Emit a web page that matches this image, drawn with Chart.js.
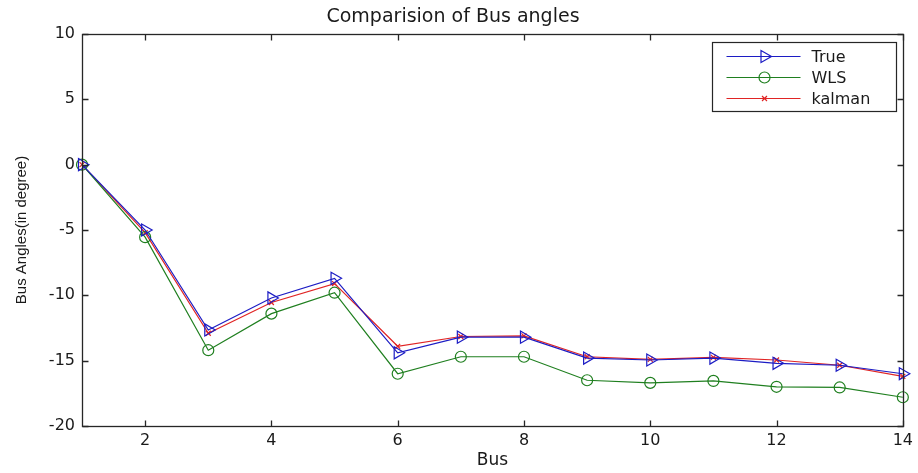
<!DOCTYPE html>
<html><head><meta charset="utf-8">
<script src="https://cdn.jsdelivr.net/npm/chart.js@4.4.1/dist/chart.umd.min.js"></script>
<style>html,body{margin:0;padding:0;background:#fff;}</style>
</head><body>
<canvas id="c" width="918" height="473"></canvas>
<script>
const titleText = 'Comparision of Bus angles';
const xTitle = 'Bus';
const yTitle = 'Bus Angles(in degree)';
const buses = [1,2,3,4,5,6,7,8,9,10,11,12,13,14];
const xTickValues = [2,4,6,8,10,12,14];
const yTickValues = [-20,-15,-10,-5,0,5,10];
const seriesNames = ['True','WLS','kalman'];
const trueVals   = [0, -5.0, -12.65, -10.2, -8.7, -14.4, -13.2, -13.2, -14.8, -14.95, -14.8, -15.2, -15.35, -16.0];
const wlsVals    = [0, -5.55, -14.2, -11.4, -9.8, -16.0, -14.7, -14.7, -16.5, -16.7, -16.55, -17.0, -17.05, -17.8];
const kalmanVals = [0, -5.2, -12.9, -10.55, -9.1, -13.9, -13.15, -13.1, -14.7, -14.9, -14.75, -14.95, -15.35, -16.2];

const FONT = 'DejaVu Sans';
const TXT = '#1a1a1a';
const pts = vals => buses.map((b,i)=>({x:b, y:vals[i]}));

const styles = [
  {color:'#1c1cc4', pointStyle:'triangle', radius:7, rotation:90},
  {color:'#1f7f1f', pointStyle:'circle', radius:5.5, rotation:0},
  {color:'#e02424', pointStyle:'crossRot', radius:3.5, rotation:0}
];
const seriesVals = [trueVals, wlsVals, kalmanVals];

const datasets = seriesNames.map((name,i)=>({
  label:name,
  data: pts(seriesVals[i]),
  borderColor: styles[i].color,
  backgroundColor:'rgba(0,0,0,0)',
  borderWidth:1.2,
  pointStyle: styles[i].pointStyle,
  pointRadius: styles[i].radius,
  pointRotation: styles[i].rotation,
  pointBorderWidth:1.2,
  pointBorderColor: styles[i].color,
  pointBackgroundColor:'rgba(0,0,0,0)',
  tension:0,
  clip:false
}));

const framePlugin = {
  id:'frame',
  afterDraw(chart){
    const {ctx, chartArea:a, scales:{x,y}} = chart;
    ctx.save();
    ctx.strokeStyle='#262626'; ctx.lineWidth=1.3;
    const L=Math.round(a.left)+0.5, T=Math.round(a.top)+0.5, R=Math.round(a.right)+0.5, B=Math.round(a.bottom)+0.5;
    ctx.strokeRect(L,T,R-L,B-T);
    const tl=6;
    ctx.beginPath();
    x.ticks.forEach(t=>{const px=Math.round(x.getPixelForValue(t.value))+0.5;
      ctx.moveTo(px,B); ctx.lineTo(px,B-tl); ctx.moveTo(px,T); ctx.lineTo(px,T+tl);});
    y.ticks.forEach(t=>{const py=Math.round(y.getPixelForValue(t.value))+0.5;
      ctx.moveTo(L,py); ctx.lineTo(L+tl,py); ctx.moveTo(R,py); ctx.lineTo(R-tl,py);});
    ctx.stroke();
    // legend
    const bx=R-191, by=T+8, bw=184, bh=69;
    ctx.fillStyle='#fff'; ctx.fillRect(bx,by,bw,bh);
    ctx.strokeStyle='#262626'; ctx.lineWidth=1.2; ctx.strokeRect(bx,by,bw,bh);
    ctx.font = '16px "'+FONT+'"'; ctx.textBaseline='middle'; ctx.textAlign='left';
    chart.data.datasets.forEach((ds,i)=>{
      const ry = by + 14 + i*21;
      ctx.strokeStyle=ds.borderColor; ctx.lineWidth=1.2;
      ctx.beginPath(); ctx.moveTo(bx+14,ry); ctx.lineTo(bx+88,ry); ctx.stroke();
      ctx.fillStyle='rgba(0,0,0,0)';
      Chart.helpers.drawPoint(ctx,{pointStyle:ds.pointStyle, radius:ds.pointRadius, rotation:ds.pointRotation, borderWidth:1.2}, bx+52, ry);
      ctx.fillStyle=TXT; ctx.fillText(ds.label, bx+99, ry+1);
    });
    ctx.restore();
  }
};

new Chart(document.getElementById('c'), {
  type:'line',
  data:{datasets},
  plugins:[framePlugin],
  options:{
    responsive:false,
    animation:false,
    layout:{padding:{left:0,right:12,top:0,bottom:0}},
    plugins:{
      legend:{display:false},
      tooltip:{enabled:false},
      title:{display:true, text:titleText, color:TXT, font:{family:FONT,size:19,weight:'normal'}, padding:{top:6,bottom:5.2}}
    },
    scales:{
      x:{type:'linear', min:1, max:14,
        afterBuildTicks:s=>{s.ticks = xTickValues.map(v=>({value:v}));},
        afterFit:s=>{s.height=47;},
        grid:{display:false, drawTicks:false}, border:{display:false},
        ticks:{color:TXT, font:{family:FONT,size:16}, padding:5, maxRotation:0, autoSkip:false},
        title:{display:true, text:xTitle, color:TXT, font:{family:FONT,size:17}, padding:{top:2,bottom:2}}
      },
      y:{type:'linear', min:-20, max:10,
        afterBuildTicks:s=>{s.ticks = yTickValues.map(v=>({value:v}));},
        afterFit:s=>{s.width=82;},
        grid:{display:false, drawTicks:false}, border:{display:false},
        ticks:{color:TXT, font:{family:FONT,size:16}, padding:7},
        title:{display:true, text:yTitle, color:TXT, font:{family:'Liberation Sans',size:15}, padding:{top:13,bottom:13}}
      }
    }
  }
});
</script>
</body></html>
